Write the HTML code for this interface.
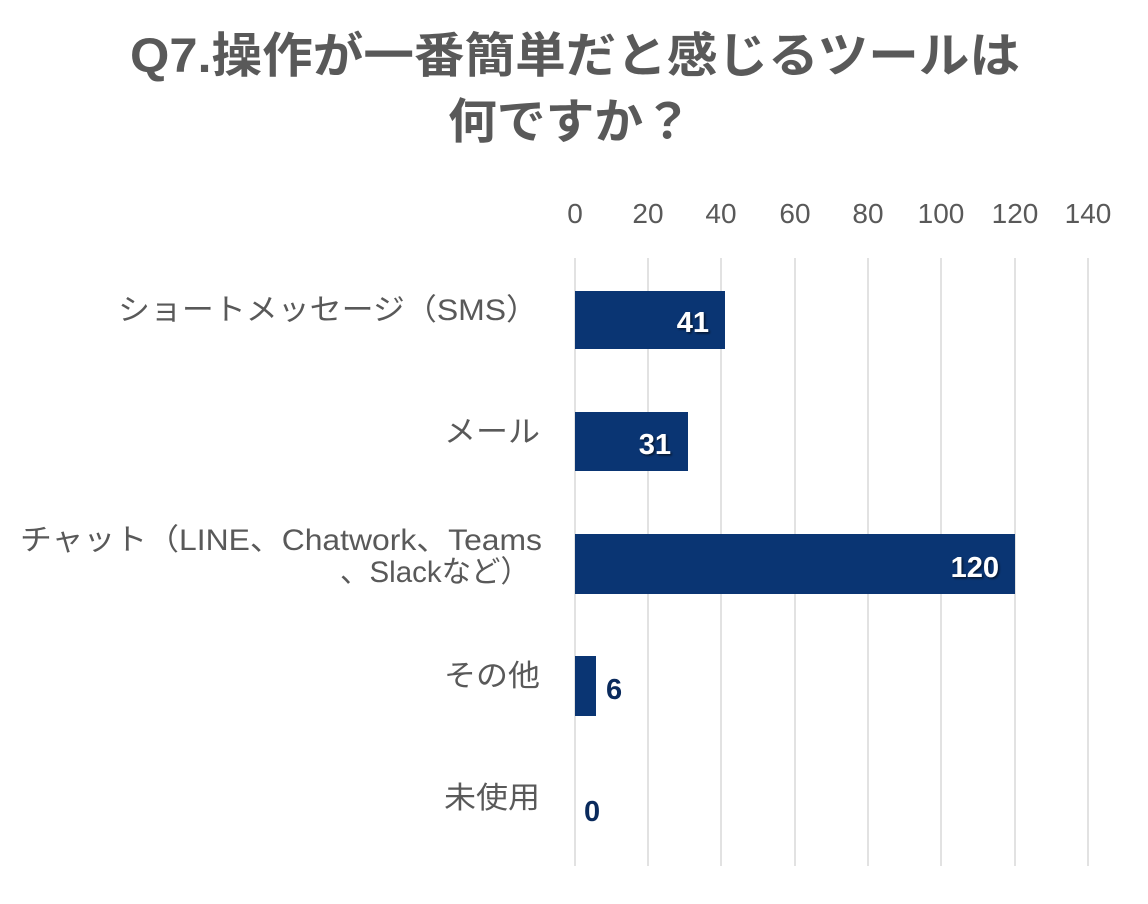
<!DOCTYPE html>
<html><head><meta charset="utf-8"><style>
html,body{margin:0;padding:0;background:#fff;}
svg{display:block;}
text{font-family:"Liberation Sans","Noto Sans CJK JP",sans-serif;}
</style></head><body>
<svg width="1148" height="904" viewBox="0 0 1148 904" xmlns="http://www.w3.org/2000/svg">
<defs><filter id="sh" x="-20%" y="-20%" width="140%" height="140%"><feDropShadow dx="1.5" dy="1.5" stdDeviation="1" flood-color="#000" flood-opacity="0.6"/></filter></defs>
<g fill="#595959" font-weight="bold" font-size="48">
<text x="130" y="72" textLength="890" lengthAdjust="spacingAndGlyphs">Q7.操作が一番簡単だと感じるツールは</text>
<text x="448" y="138" textLength="244" lengthAdjust="spacingAndGlyphs">何ですか？</text>
</g>
<g stroke="#d9d9d9" stroke-width="1.5">
<line x1="575" y1="258" x2="575" y2="866"/><line x1="648" y1="258" x2="648" y2="866"/>
<line x1="721" y1="258" x2="721" y2="866"/><line x1="795" y1="258" x2="795" y2="866"/>
<line x1="868" y1="258" x2="868" y2="866"/><line x1="941" y1="258" x2="941" y2="866"/>
<line x1="1015" y1="258" x2="1015" y2="866"/><line x1="1088" y1="258" x2="1088" y2="866"/>
</g>
<g fill="#595959" font-size="28" text-anchor="middle">
<text x="575" y="223">0</text><text x="648" y="223">20</text><text x="721" y="223">40</text>
<text x="795" y="223">60</text><text x="868" y="223">80</text><text x="941" y="223">100</text>
<text x="1015" y="223">120</text><text x="1088" y="223">140</text>
</g>
<g fill="#0a3573">
<rect x="575" y="291" width="150" height="58"/>
<rect x="575" y="412" width="113" height="59"/>
<rect x="575" y="534" width="440" height="60"/>
<rect x="575" y="656" width="21" height="60"/>
</g>
<g fill="#fff" font-weight="bold" font-size="29" text-anchor="end" filter="url(#sh)">
<text x="709" y="332">41</text><text x="671" y="454">31</text><text x="999" y="577">120</text>
</g>
<g fill="#0a2a5c" font-weight="bold" font-size="29">
<text x="606" y="699">6</text><text x="584" y="821">0</text>
</g>
<g fill="#595959" font-size="30">
<text x="118" y="320" textLength="420" lengthAdjust="spacingAndGlyphs">ショートメッセージ（SMS）</text>
<text x="444" y="442" textLength="96" lengthAdjust="spacingAndGlyphs">メール</text>
<text x="20" y="550" textLength="522" lengthAdjust="spacingAndGlyphs">チャット（LINE、Chatwork、Teams</text>
<text x="340" y="582" textLength="190" lengthAdjust="spacingAndGlyphs">、Slackなど）</text>
<text x="444" y="686" textLength="96" lengthAdjust="spacingAndGlyphs">その他</text>
<text x="444" y="808" textLength="96" lengthAdjust="spacingAndGlyphs">未使用</text>
</g>
</svg>
</body></html>
